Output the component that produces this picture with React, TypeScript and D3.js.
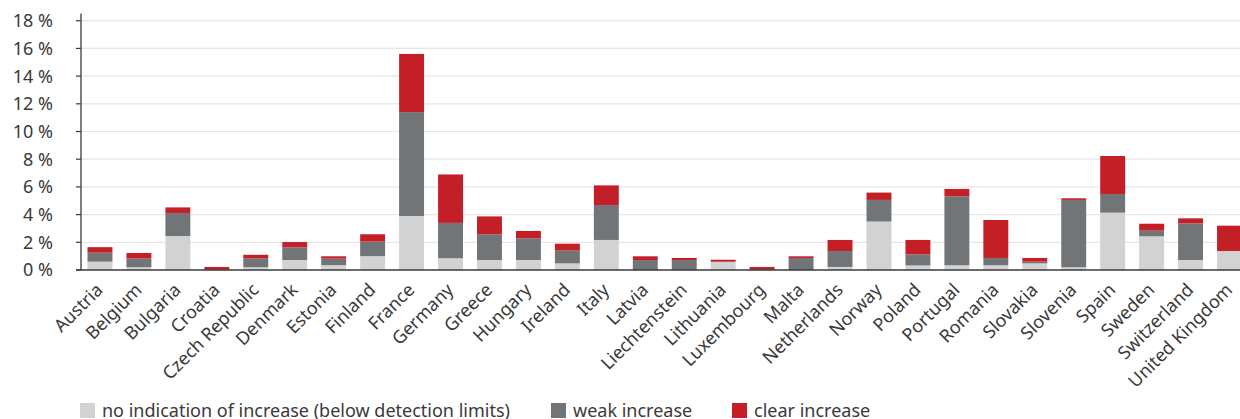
import React from "react";
import * as d3 from "d3";

const countries = [
  "Austria", "Belgium", "Bulgaria", "Croatia", "Czech Republic", "Denmark", "Estonia",
  "Finland", "France", "Germany", "Greece", "Hungary", "Ireland", "Italy", "Latvia",
  "Liechtenstein", "Lithuania", "Luxembourg", "Malta", "Netherlands", "Norway", "Poland",
  "Portugal", "Romania", "Slovakia", "Slovenia", "Spain", "Sweden", "Switzerland", "United Kingdom",
];

const noIndication = [0.6, 0.2, 2.45, 0, 0.2, 0.72, 0.35, 1.0, 3.9, 0.85, 0.72, 0.72, 0.48, 2.17, 0, 0, 0.58, 0, 0, 0.22, 3.5, 0.33, 0.34, 0.34, 0.48, 0.2, 4.14, 2.43, 0.72, 1.37];
const weakIncrease = [0.65, 0.63, 1.67, 0.02, 0.63, 0.92, 0.47, 1.05, 7.5, 2.55, 1.85, 1.57, 0.92, 2.52, 0.72, 0.72, 0.02, 0.07, 0.87, 1.15, 1.56, 0.8, 4.98, 0.53, 0.12, 4.86, 1.35, 0.41, 2.65, 0];
const clearIncrease = [0.4, 0.4, 0.4, 0.2, 0.27, 0.38, 0.17, 0.53, 4.2, 3.5, 1.3, 0.53, 0.5, 1.42, 0.27, 0.15, 0.14, 0.15, 0.12, 0.8, 0.53, 1.04, 0.53, 2.74, 0.27, 0.12, 2.74, 0.5, 0.36, 1.83];

const yTicks = [0, 2, 4, 6, 8, 10, 12, 14, 16, 18];

const seriesNames = [
  "no indication of increase (below detection limits)",
  "weak increase",
  "clear increase",
];
const seriesColors = ["#d1d2d1", "#727578", "#c41f26"];

const W = 1240;
const H = 419;
const FONT = "'Noto Sans', 'Open Sans', sans-serif";
const TEXT = "#3a3a3a";

export default function App() {
  const x = d3.scaleBand<string>().domain(countries).range([80.5, 1249]).paddingInner(0.36).paddingOuter(0.18);
  const y = d3.scaleLinear().domain([0, 18.5]).range([270, 13.8]);

  const rows = countries.map((c, i) => ({
    country: c,
    s0: noIndication[i],
    s1: weakIncrease[i],
    s2: clearIncrease[i],
  }));
  const stack = d3.stack<any>().keys(["s0", "s1", "s2"]);
  const layers = stack(rows);

  const legendX = [80, 551, 732];

  return (
    <svg width={W} height={H} style={{ position: "absolute", left: 0, top: 0 }} fontFamily={FONT}>
      {yTicks.map((t) => (
        <g key={t}>
          {t > 0 && <line x1={82} x2={W} y1={y(t)} y2={y(t)} stroke="#e6e6e6" strokeWidth={1.2} />}
          <line x1={76} x2={81} y1={y(t)} y2={y(t)} stroke="#3a3a3a" strokeWidth={1.2} />
          <text x={53} y={y(t)} dy="0.36em" textAnchor="end" fontSize={18} fill={TEXT}>
            {`${t} %`}
          </text>
        </g>
      ))}
      {layers.map((layer, li) => (
        <g key={li} fill={seriesColors[li]}>
          {layer.map((d, i) => {
            const y0 = y(d[0]);
            const y1 = y(d[1]);
            if (y0 - y1 <= 0) return null;
            return (
              <rect
                key={i}
                x={x(countries[i])!}
                width={x.bandwidth()}
                y={y1}
                height={y0 - y1}
              />
            );
          })}
        </g>
      ))}
      <line x1={81} x2={81} y1={13.5} y2={270} stroke="#3a3a3a" strokeWidth={1.3} />
      <line x1={76} x2={W} y1={270} y2={270} stroke="#3a3a3a" strokeWidth={1.5} />
      {countries.map((c) => {
        const cx = x(c)! + x.bandwidth() / 2;
        return (
          <text
            key={c}
            transform={`translate(${cx + 4},${291}) rotate(-45)`}
            textAnchor="end"
            fontSize={18}
            fill={TEXT}
          >
            {c}
          </text>
        );
      })}
      {seriesNames.map((n, i) => (
        <g key={n}>
          <rect x={legendX[i]} y={403} width={15} height={15} fill={seriesColors[i]} />
          <text x={legendX[i] + 22} y={417} fontSize={18} fill={TEXT}>
            {n}
          </text>
        </g>
      ))}
    </svg>
  );
}
